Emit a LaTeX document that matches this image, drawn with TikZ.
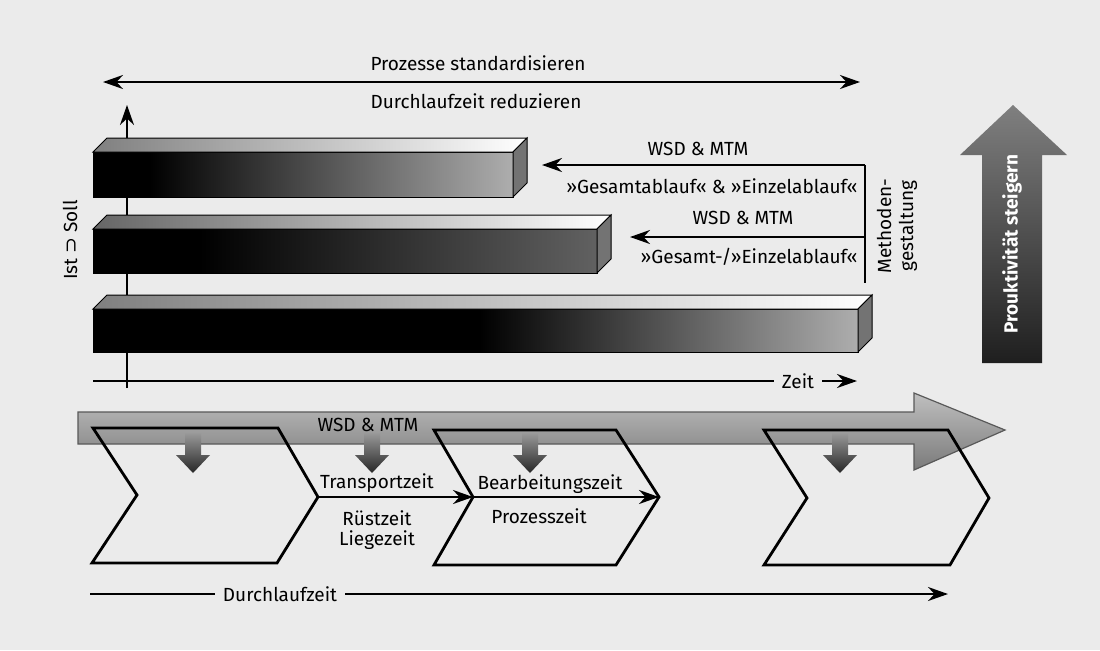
\documentclass[tikz,border=0pt]{standalone}
\usepackage{fontspec}
\setmainfont{Fira Sans}
\newfontfamily\symfont{DejaVu Sans}
\usetikzlibrary{arrows.meta}
\definecolor{bgc}{gray}{0.92}
\tikzset{
  lbl/.style={font=\fontsize{9.5}{11}\selectfont, inner sep=1pt},
  ln/.style={line width=1pt, black},
  arr/.style={ln, -{Stealth[length=10pt,width=7pt]}},
  darr/.style={ln, {Stealth[length=10pt,width=7pt]}-{Stealth[length=10pt,width=7pt]}},
  chev/.style={line width=1.4pt, black, line join=miter},
  barside/.style={fill=black!55, draw=black, line width=0.5pt},
  bartop/.style={left color=black!50, right color=white, draw=black, line width=0.5pt},
  downarr/.style={top color=black!40, bottom color=black!85, draw=none},
  gap/.style={lbl, fill=bgc, inner sep=4pt}
}
\begin{document}
\begin{tikzpicture}[x=0.5pt,y=-0.5pt]
\fill[bgc] (0,0) rectangle (1100,650);
\useasboundingbox (0,0) rectangle (1100,650);

% top double arrow
\coordinate (tl) at (103,82);
\coordinate (tr) at (860,82);
\draw[darr] (tl) -- (tr);
\node[lbl] (pstd) at (478,63) {Prozesse standardisieren};
\node[lbl] (dlzr) at (476,101) {Durchlaufzeit reduzieren};

% vertical axis
\coordinate (vo) at (127,388);
\coordinate (vt) at (127,105);
\draw[arr] (vo) -- (vt);

% bar 3
\fill[black] (93,309) rectangle (480,352);
\fill[left color=black, right color=black!32] (479,309) rectangle (858,352);
\draw[black, line width=0.5pt] (93,309) rectangle (858,352);
\draw[bartop] (93,309) -- (107,295) -- (872,295) -- (858,309) -- cycle;
\draw[barside] (858,309) -- (872,295) -- (872,338) -- (858,352) -- cycle;
% bar 2
\fill[black] (93,229) rectangle (200,273);
\fill[left color=black, right color=black!62] (199,229) rectangle (597,273);
\draw[black, line width=0.5pt] (93,229) rectangle (597,273);
\draw[bartop, left color=black!60, right color=white] (93,229) -- (107,215) -- (611,215) -- (597,229) -- cycle;
\draw[barside] (597,229) -- (611,215) -- (611,259) -- (597,273) -- cycle;
% bar 1
\fill[black] (93,152) rectangle (150,197);
\fill[left color=black, right color=black!32] (149,152) rectangle (513,197);
\draw[black, line width=0.5pt] (93,152) rectangle (513,197);
\draw[bartop] (93,152) -- (107,138) -- (527,138) -- (513,152) -- cycle;
\draw[barside] (513,152) -- (527,138) -- (527,183) -- (513,197) -- cycle;

% horizontal axis
\coordinate (ho) at (93,381);
\coordinate (he) at (857,381);
\node[gap] (zeit) at (798,381) {Zeit};
\draw[ln] (ho) -- (zeit.west);
\draw[arr] (zeit.east) -- (he);

\node[lbl, rotate=90] (istsoll) at (70,240) {Ist {\symfont ⊃} Soll};

% right annotations
\coordinate (b1) at (865,165);
\coordinate (b2) at (865,237);
\coordinate (bb) at (865,283);
\coordinate (a1) at (542,165);
\coordinate (a2) at (630,237);
\draw[ln] (b1) -- (bb);
\draw[arr] (b1) -- (a1);
\draw[arr] (b2) -- (a2);
\node[lbl] (wsd1) at (698,149) {WSD \& MTM};
\node[lbl, anchor=east] (ges1) at (860,186) {»Gesamtablauf« \& »Einzelablauf«};
\node[lbl] (wsd2) at (743,218) {WSD \& MTM};
\node[lbl, anchor=east] (ges2) at (860,257) {»Gesamt-/»Einzelablauf«};
\node[lbl, rotate=90, align=center] (meth) at (897,226) {Methoden-\\gestaltung};

% productivity arrow
\shade[top color=black!50, bottom color=black!88] (982,363) -- (982,155) -- (960,155) -- (1013,105) -- (1067,155) -- (1042,155) -- (1042,363) -- cycle;
\node[lbl, rotate=90, text=white, font=\fontsize{9.5}{11}\selectfont\bfseries] (prod) at (1012,244) {Prouktivität steigern};

% bottom big arrow
\shade[top color=black!25, bottom color=black!52, draw=black!65, line width=0.6pt] (78,412) -- (914,412) -- (914,393) -- (1005,430) -- (914,470) -- (914,444) -- (78,444) -- cycle;

% chevrons
\coordinate (c1t) at (318,497);
\coordinate (c2n) at (473,497);
\coordinate (c2t) at (659,497);
\draw[chev] (93,428) -- (278,428) -- (c1t) -- (277,563) -- (92,563) -- (137,495) -- cycle;
\draw[chev] (434,430) -- (616,430) -- (c2t) -- (616,565) -- (434,565) -- (c2n) -- cycle;
\draw[chev] (764,430) -- (948,430) -- (989,498) -- (950,565) -- (764,565) -- (807,498) -- cycle;

\node[lbl] (wsd3) at (368,425) {WSD \& MTM};

% small down arrows
\foreach \x in {193,372,530,840} {
  \shade[downarr] (\x-8,433) -- (\x+8,433) -- (\x+8,455) -- (\x+17,455) -- (\x,473) -- (\x-17,455) -- (\x-8,455) -- cycle;
}

\draw[arr] (c1t) -- (c2n);
\draw[arr] (c2n) -- (c2t);
\node[lbl] (tz) at (377,483) {Transportzeit};
\node[lbl] (rz) at (377,518) {Rüstzeit};
\node[lbl] (lz) at (377,540) {Liegezeit};
\node[lbl] (bz) at (550,484) {Bearbeitungszeit};
\node[lbl] (pz) at (539,516) {Prozesszeit};

% Durchlaufzeit
\coordinate (ds) at (90,594);
\coordinate (de) at (948,594);
\node[gap] (dlz) at (280,594) {Durchlaufzeit};
\draw[ln] (ds) -- (dlz.west);
\draw[arr] (dlz.east) -- (de);
\end{tikzpicture}
\end{document}
